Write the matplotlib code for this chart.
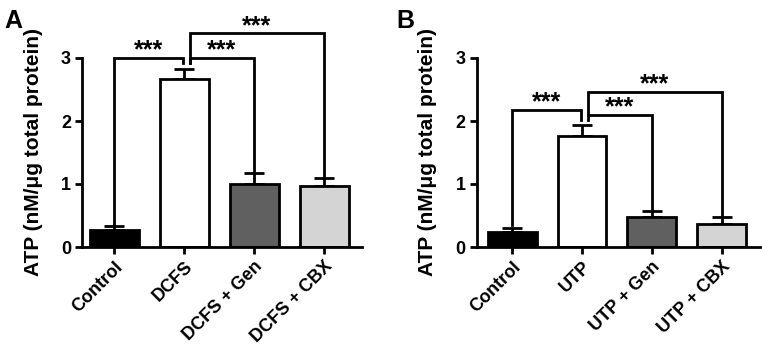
import matplotlib
matplotlib.use("Agg")
import matplotlib.pyplot as plt

plt.rcParams['font.family'] = ['Liberation Sans', 'DejaVu Sans']
plt.rcParams['font.weight'] = 'bold'

cats_a = ["Control", "DCFS", "DCFS + Gen", "DCFS + CBX"]
vals_a = [0.27, 2.67, 1.00, 0.97]
err_a = [0.07, 0.16, 0.18, 0.12]

cats_b = ["Control", "UTP", "UTP + Gen", "UTP + CBX"]
vals_b = [0.24, 1.76, 0.48, 0.36]
err_b = [0.06, 0.17, 0.09, 0.12]

colors = ["#000000", "#ffffff", "#606060", "#d4d4d4"]

# brackets: (x1, x2, y_top, y_left_end, y_right_end)
brk_a = [(0, 0.98, 3.0, 0.37, 2.92), (1.08, 2, 3.0, 2.92, 1.2), (1.08, 3, 3.39, 2.92, 1.12)]
brk_b = [(0, 0.98, 2.18, 0.35, 2.02), (1.08, 2, 2.09, 2.02, 0.6), (1.08, 3, 2.46, 2.09, 0.5)]

fig = plt.figure(figsize=(7.62, 3.48), dpi=100)

def panel(rect, xlim, cats, vals, errs, brks, letter, letter_x):
    ax = fig.add_axes(rect)
    x = list(range(len(cats)))
    ax.bar(x, vals, width=0.7, color=colors, edgecolor="black", linewidth=2, zorder=2)
    ax.errorbar(x, vals, yerr=[[0]*len(errs), errs], fmt="none", ecolor="black",
                elinewidth=2, capsize=7, capthick=2, zorder=1)
    ax.set_xlim(*xlim)
    ax.set_ylim(0, 3)
    ax.set_yticks([0, 1, 2, 3])
    ax.set_xticks(x)
    ax.set_xticklabels(cats, rotation=45, ha="right", rotation_mode="anchor", fontsize=13, fontweight="bold")
    ax.tick_params(axis="y", labelsize=13, width=2, length=5, pad=3)
    ax.tick_params(axis="x", width=2, length=5, pad=3)
    for lab in ax.get_yticklabels():
        lab.set_fontweight("bold")
    for s in ["top", "right"]:
        ax.spines[s].set_visible(False)
    for s in ["left", "bottom"]:
        ax.spines[s].set_linewidth(2)
    ax.set_ylabel("ATP (nM/μg total protein)", fontsize=15, fontweight="bold", labelpad=13)
    for (x1, x2, yt, yl, yr) in brks:
        ax.plot([x1, x1, x2, x2], [yl, yt, yt, yr], color="black", lw=2, clip_on=False,
                solid_joinstyle="miter")
        ax.text((x1 + x2) / 2, yt - 0.07, "***", ha="center", va="bottom", fontsize=18,
                fontweight="bold")
    fig.text(letter_x, 0.975, letter, fontsize=18, fontweight="bold", va="top")
    return ax

panel([82/762, 101/348, 280/762, 189/348], (-0.46, 3.54), cats_a, vals_a, err_a, brk_a, "A", 0.006)
panel([476.5/762, 101/348, 283/762, 189/348], (-0.51, 3.54), cats_b, vals_b, err_b, brk_b, "B", 0.52)

fig.savefig("out.png", dpi=100)
